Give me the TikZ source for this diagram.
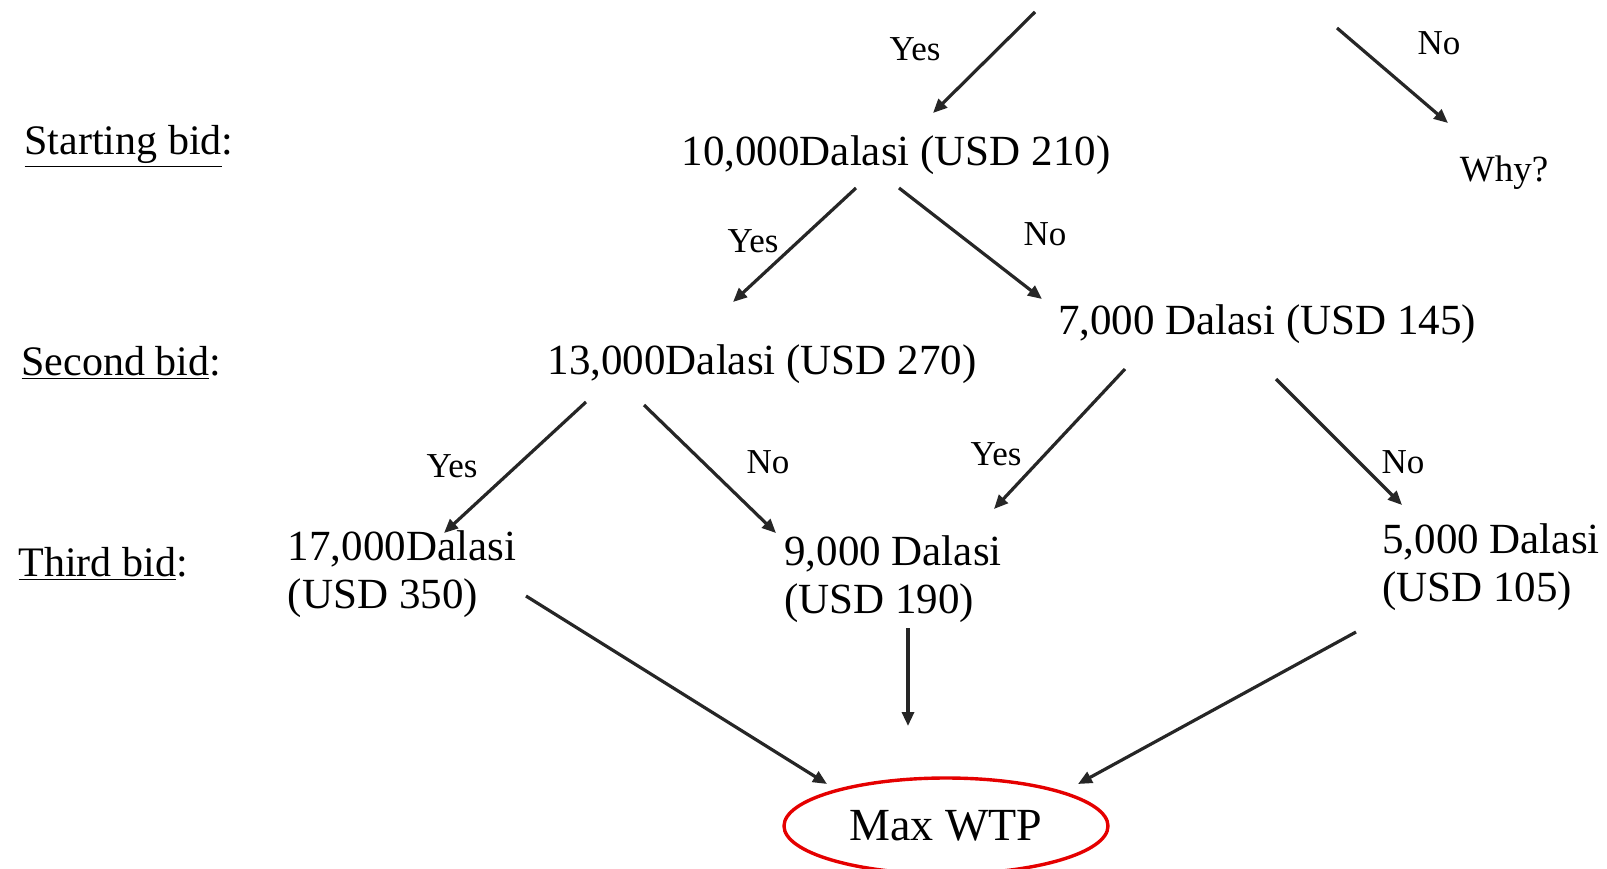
\documentclass[tikz,border=0pt]{standalone}
\usepackage{fontspec}
\setmainfont{Liberation Serif}
\usetikzlibrary{arrows.meta, calc, shapes.geometric}

\begin{document}
\begin{tikzpicture}[
    x=0.5pt, y=-0.5pt,
    >={Triangle[length=7pt,width=6pt]},
    line width=1.6pt,
    bid/.style={
        font=\fontsize{21.5}{24}\selectfont,
        inner sep=0pt,
        align=left
    },
    answer/.style={
        font=\fontsize{17.5}{20}\selectfont,
        inner sep=0pt
    },
    level/.style={
        font=\fontsize{21}{24}\selectfont,
        inner sep=0pt,
        anchor=west
    },
    link/.style={->, draw=black!85}
]
\useasboundingbox (0,0) rectangle (1607,868);

% row labels
\node[level] (startlbl) at (23,146) {\underline{Starting bid}:};
\node[level] (secondlbl) at (20,363) {\underline{Second bid}:};
\node[level] (thirdlbl) at (17,564) {\underline{Third bid}:};

% bids
\node[bid] (ten) at (896,155) {10,000Dalasi (USD 210)};
\node[answer, font=\fontsize{18.5}{20}\selectfont] (why) at (1504,173) {Why?};
\node[bid] (thirteen) at (762,364) {13,000Dalasi (USD 270)};
\node[bid] (seven) at (1267,324) {7,000 Dalasi (USD 145)};
\node[bid] (seventeen) at (402,574) {17,000Dalasi\\(USD 350)};
\node[bid] (nine) at (893,579) {9,000 Dalasi\\(USD 190)};
\node[bid] (five) at (1491,567) {5,000 Dalasi\\(USD 105)};
\node[ellipse, draw=red!90!black, line width=1.7pt, minimum width=162pt, minimum height=48pt,
      font=\fontsize{23}{26}\selectfont] (wtp) at (946,826) {Max WTP};

% answers
\node[answer] (yestop) at (915,49) {Yes};
\node[answer] (notop) at (1439,43) {No};
\node[answer] (yesA) at (753,241) {Yes};
\node[answer] (noA) at (1045,234) {No};
\node[answer] (yesB) at (452,466) {Yes};
\node[answer] (noB) at (768,462) {No};
\node[answer] (yesC) at (996,454) {Yes};
\node[answer] (noC) at (1403,462) {No};

% incoming branches
\coordinate (inyes) at (1035,12);
\coordinate (inno) at (1337,28);

\draw[link] (inyes) -- ($(ten.center)+(37,-42)$);
\draw[link] (inno) -- ($(why.center)+(-56,-50)$);
\draw[link] ($(ten.center)+(-40,33)$) -- ($(thirteen.center)+(-29,-62)$);
\draw[link] ($(ten.center)+(3,33)$) -- ($(seven.center)+(-225,-25)$);
\draw[link] ($(thirteen.center)+(-176,38)$) -- ($(seventeen.center)+(42,-41)$);
\draw[link] ($(thirteen.center)+(-118,41)$) -- ($(nine.center)+(-117,-46)$);
\draw[link] ($(seven.center)+(-142,45)$) -- ($(nine.center)+(101,-70)$);
\draw[link] ($(seven.center)+(9,55)$) -- ($(five.center)+(-89,-62)$);
\draw[link] ($(seventeen.center)+(124,22)$) -- ($(wtp.center)+(-119,-42)$);
\draw[link] ($(nine.center)+(15,49)$) -- ($(wtp.center)+(-38,-100)$);
\draw[link] ($(five.center)+(-135,65)$) -- ($(wtp.center)+(132,-42)$);

\end{tikzpicture}
\end{document}
